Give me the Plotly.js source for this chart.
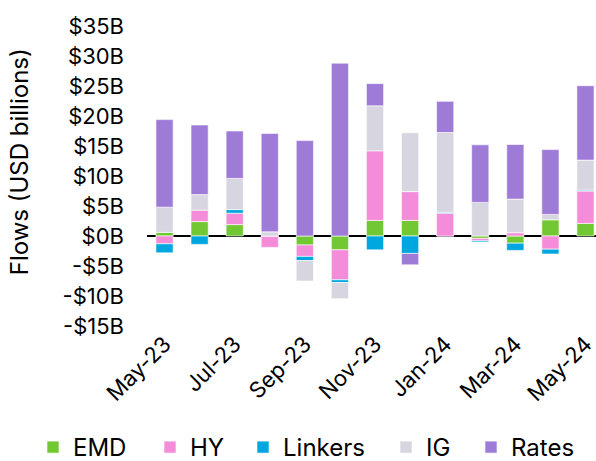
<!DOCTYPE html>
<html>
<head>
<meta charset="utf-8">
<script src="https://cdn.plot.ly/plotly-3.0.1.min.js"></script>
<style>html,body{margin:0;padding:0;background:#fff;}#chart{width:596px;height:461px;}</style>
</head>
<body>
<div id="chart"></div>
<script>
const months = ["May-23","Jun-23","Jul-23","Aug-23","Sep-23","Oct-23","Nov-23","Dec-23","Jan-24","Feb-24","Mar-24","Apr-24","May-24"];
const tickMonths = ["May-23","Jul-23","Sep-23","Nov-23","Jan-24","Mar-24","May-24"];
const emd     = [0.6, 2.4, 1.9, 0.0, -1.5, -2.3, 2.6, 2.6, 0.0, -0.4, -1.2, 2.7, 2.1];
const hy      = [-1.3, 1.9, 1.9, -1.9, -1.9, -5.0, 11.6, 4.8, 3.8, -0.4, 0.55, -2.2, 5.4];
const linkers = [-1.5, -1.4, 0.6, 0.0, -0.7, -0.45, -2.3, -2.9, 0.15, -0.2, -1.2, -0.8, 0.15];
const ig      = [4.2, 2.6, 5.2, 0.7, -3.4, -2.7, 7.5, 9.8, 13.3, 5.6, 5.6, 0.9, 5.0];
const rates   = [14.6, 11.6, 7.9, 16.4, 15.9, 28.8, 3.7, -1.9, 5.2, 9.6, 9.1, 10.8, 12.4];
const yTickVals = [-15, -10, -5, 0, 5, 10, 15, 20, 25, 30, 35];
const yTickText = yTickVals.map(v => (v < 0 ? "-$" + Math.abs(v) : "$" + v) + "B");

const seriesNames = ["EMD", "HY", "Linkers", "IG", "Rates"];
const seriesVals = [emd, hy, linkers, ig, rates];
const colors = ["#72C832", "#F58CDA", "#00A6DF", "#D7D5DF", "#9F7BD8"];
const legendIds = ["legend", "legend2", "legend3", "legend4", "legend5"];
const legendX = [33, 150, 243, 386, 471];

const traces = seriesNames.map((n, i) => ({
  type: "bar",
  name: n,
  x: months,
  y: seriesVals[i],
  legend: legendIds[i],
  marker: {color: colors[i], line: {color: "rgba(255,255,255,0.6)", width: 1}},
  width: 0.49,
  hovertemplate: "%{x}: %{y}B<extra>" + n + "</extra>"
}));

const font = "Inter, 'Open Sans', sans-serif";
const layout = {
  width: 596, height: 461,
  barmode: "relative",
  margin: {l: 147, r: 0, t: 26, b: 135, autoexpand: false},
  paper_bgcolor: "#fff", plot_bgcolor: "#fff",
  font: {family: font, size: 22, color: "#000"},
  showlegend: true,
  xaxis: {
    type: "category", range: [-0.5, 12.3],
    tickmode: "array", tickvals: tickMonths, ticktext: tickMonths,
    tickangle: -45, showgrid: false, zeroline: false, showline: false,
    ticks: "", tickfont: {family: font, size: 22}
  },
  yaxis: {
    range: [-15, 35], tickmode: "array", tickvals: yTickVals, ticktext: yTickText,
    showgrid: false, zeroline: true, zerolinecolor: "#000", zerolinewidth: 2,
    showline: false, ticks: "", ticklabelstandoff: 22,
    tickfont: {family: font, size: 22}
  },
  annotations: [{
    text: "Flows (USD billions)", xref: "paper", yref: "paper",
    x: -0.282, y: 0.547, xanchor: "center", yanchor: "middle",
    textangle: -90, showarrow: false, font: {family: font, size: 24, color: "#000"}
  }]
};
legendIds.forEach((id, i) => {
  layout[id] = {
    orientation: "h", xref: "container", yref: "paper",
    x: legendX[i] / 596, xanchor: "left", y: -0.405, yanchor: "middle",
    font: {family: font, size: 24, color: "#000"},
    itemwidth: 30, bgcolor: "rgba(0,0,0,0)"
  };
});
Plotly.newPlot("chart", traces, layout, {displayModeBar: false, staticPlot: true});
</script>
</body>
</html>
